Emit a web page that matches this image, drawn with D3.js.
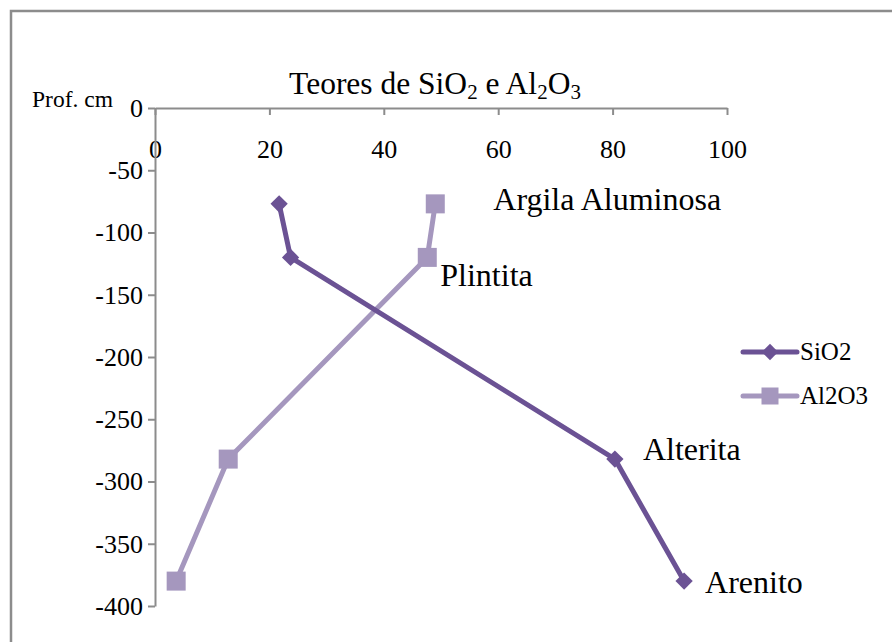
<!DOCTYPE html>
<html>
<head>
<meta charset="utf-8">
<script src="https://cdn.jsdelivr.net/npm/d3@7"></script>
<style>
  html, body { margin: 0; padding: 0; background: #fff; }
  svg { display: block; }
  svg text { font-family: "Liberation Serif", "Times New Roman", serif !important; fill: #000; }
</style>
</head>
<body>
<svg id="chart" width="892" height="642"></svg>
<script>
// Teores (%) por profundidade (cm)
const depths = [-77, -120, -282, -380];
const sio2 = [21.7, 23.7, 80.4, 92.5];
const al2o3 = [49.0, 47.6, 12.8, 3.7];
const horizonLabels = ["Argila Aluminosa", "Plintita", "Alterita", "Arenito"];
const xTicks = [0, 20, 40, 60, 80, 100];
const yTicks = [0, -50, -100, -150, -200, -250, -300, -350, -400];

const colSi = "#6b5294";
const colAl = "#a597be";

const svg = d3.select("#chart");

// chart frame
svg.append("rect")
  .attr("x", 11).attr("y", 11)
  .attr("width", 900).attr("height", 660)
  .attr("fill", "none").attr("stroke", "#8c8c8c").attr("stroke-width", 2.5);

const x = d3.scaleLinear().domain([0, 100]).range([155, 727]);
const y = d3.scaleLinear().domain([0, -400]).range([108, 606]);

const plain = d => String(d);

// x axis along the top (depth 0)
const xAxis = svg.append("g").attr("transform", `translate(0,${y(0)})`)
  .call(d3.axisBottom(x).tickValues(xTicks).tickSize(7).tickSizeOuter(0).tickFormat(plain));
xAxis.attr("font-family", null).attr("font-size", null);
xAxis.select(".domain").attr("stroke", "#8c8c8c").attr("stroke-width", 2);
xAxis.selectAll(".tick line").attr("stroke", "#8c8c8c").attr("stroke-width", 2);
xAxis.selectAll(".tick text")
  .attr("y", 50).attr("dy", 0)
  .style("font-size", "26px");

const yAxis = svg.append("g").attr("transform", `translate(${x(0)},0)`)
  .call(d3.axisLeft(y).tickValues(yTicks).tickSize(7).tickSizeOuter(0).tickFormat(plain));
yAxis.attr("font-family", null).attr("font-size", null);
yAxis.select(".domain").attr("stroke", "#8c8c8c").attr("stroke-width", 2);
yAxis.selectAll(".tick line").attr("stroke", "#8c8c8c").attr("stroke-width", 2);
yAxis.selectAll(".tick text")
  .attr("x", -12)
  .style("font-size", "26px");

// title
const title = svg.append("text")
  .attr("x", 435).attr("y", 94)
  .attr("text-anchor", "middle")
  .style("font-size", "31.5px");
title.append("tspan").text("Teores de SiO");
title.append("tspan").style("font-size", "21px").attr("dy", 5).text("2");
title.append("tspan").attr("dy", -5).text(" e Al");
title.append("tspan").style("font-size", "21px").attr("dy", 5).text("2");
title.append("tspan").attr("dy", -5).text("O");
title.append("tspan").style("font-size", "21px").attr("dy", 5).text("3");

svg.append("text").attr("x", 32).attr("y", 107).style("font-size", "23.5px").text("Prof. cm");

const line = d3.line();
const siPts = depths.map((d, i) => [x(sio2[i]), y(d)]);
const alPts = depths.map((d, i) => [x(al2o3[i]), y(d)]);

svg.append("path").attr("d", line(alPts))
  .attr("fill", "none").attr("stroke", colAl).attr("stroke-width", 5).attr("stroke-linejoin", "round");
svg.append("path").attr("d", line(siPts))
  .attr("fill", "none").attr("stroke", colSi).attr("stroke-width", 5).attr("stroke-linejoin", "round");

const sq = 19;
svg.selectAll(".mk-al").data(alPts).join("rect")
  .attr("x", d => d[0] - sq / 2).attr("y", d => d[1] - sq / 2)
  .attr("width", sq).attr("height", sq).attr("fill", colAl);

const diamond = d3.symbol().type(d3.symbolDiamond2).size(190);
svg.selectAll(".mk-si").data(siPts).join("path")
  .attr("transform", d => `translate(${d[0]},${d[1]})`)
  .attr("d", diamond).attr("fill", colSi);

// horizon labels
const labelPos = [
  [x(49.0) + 58, y(depths[0]) + 6],
  [x(47.6) + 13, y(depths[1]) + 29],
  [x(80.4) + 28, y(depths[2]) + 1],
  [x(92.5) + 21, y(depths[3]) + 12]
];
svg.selectAll(".hz").data(horizonLabels).join("text")
  .attr("x", (d, i) => labelPos[i][0]).attr("y", (d, i) => labelPos[i][1])
  .style("font-size", "32px").text(d => d);

// legend
const legend = [["SiO2", colSi, "diamond"], ["Al2O3", colAl, "square"]];
legend.forEach(([name, c, shape], i) => {
  const ly = 352 + i * 44;
  svg.append("line").attr("x1", 743).attr("x2", 797).attr("y1", ly).attr("y2", ly)
    .attr("stroke", c).attr("stroke-width", 5).attr("stroke-linecap", "round");
  if (shape === "diamond") {
    svg.append("path").attr("transform", `translate(770,${ly})`)
      .attr("d", d3.symbol().type(d3.symbolDiamond2).size(170)).attr("fill", c);
  } else {
    svg.append("rect").attr("x", 770 - 8.5).attr("y", ly - 8.5).attr("width", 17).attr("height", 17).attr("fill", c);
  }
  svg.append("text").attr("x", 800).attr("y", ly + 8).style("font-size", "25px").text(name);
});
</script>
</body>
</html>
